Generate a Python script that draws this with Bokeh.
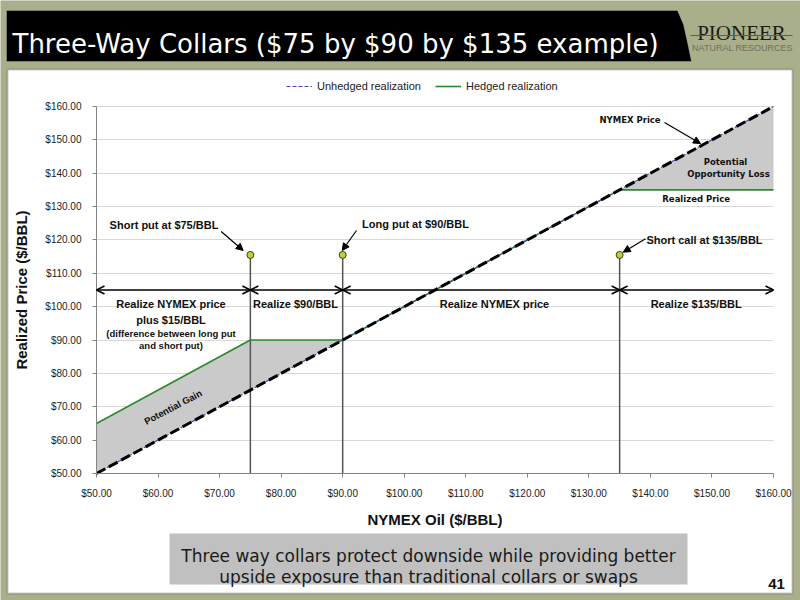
from bokeh.plotting import figure
from bokeh.models import (Label, BoxAnnotation, PolyAnnotation, Arrow, NormalHead, OpenHead,
                          Legend, LegendItem, FixedTicker, PrintfTickFormatter, Range1d)
from bokeh.embed import file_html
from bokeh.resources import INLINE

# ---------------- data ----------------
nymex = [50, 75, 90, 135, 160]          # NYMEX oil price ($/BBL)
unhedged = [50, 75, 90, 135, 160]       # unhedged realization
hedged = [65, 90, 90, 135, 135]         # hedged realization
gain_x = [50, 75, 90]
gain_low = [50, 75, 90]
gain_high = [65, 90, 90]
loss_x = [135, 160]
loss_low = [135, 135]
loss_high = [135, 160]
strikes = [75, 90, 135]
strike_names = ["Short put at $75/BBL", "Long put at $90/BBL", "Short call at $135/BBL"]
marker_level = 115.5
zone_edges = [50, 75, 90, 135, 160]
zone_level = 105
zone_names = ["Realize NYMEX price", "Realize $90/BBL", "Realize NYMEX price", "Realize $135/BBL"]
x_ticks = [50, 60, 70, 80, 90, 100, 110, 120, 130, 140, 150, 160]
y_ticks = [50, 60, 70, 80, 90, 100, 110, 120, 130, 140, 150, 160]
x_min, x_max = 50, 160
y_min, y_max = 50, 160

# ---------------- layout (reference pixel -> data) ----------------
W, H = 800, 600
FL, FR, FT, FB = 96, 773, 106, 473
KX = (x_max - x_min) / (FR - FL)
KY = (y_max - y_min) / (FB - FT)
def fx(px):
    return x_min + (px - FL) * KX
def fy(py):
    return y_max - (py - FT) * KY

SANS = "'Liberation Sans', Arial, sans-serif"
TAHOMA = "'DejaVu Sans', Verdana, sans-serif"

p = figure(width=W, height=H, output_backend="svg", toolbar_location=None,
           x_range=Range1d(fx(0), fx(W)), y_range=Range1d(fy(H), fy(0)),
           min_border_left=0, min_border_right=0, min_border_top=0, min_border_bottom=0,
           background_fill_color="#a9ae8b", border_fill_color="#a9ae8b",
           outline_line_color=None)

# slide decorations
panel = BoxAnnotation(left=fx(7), right=fx(792), top=fy(69), bottom=fy(593),
                      fill_color="white", fill_alpha=1, line_color="#4a4a4a", line_width=2,
                      level="image")
p.add_layout(panel)
title_bar = PolyAnnotation(xs=[fx(6), fx(677), fx(683), fx(687), fx(691), fx(6)],
                           ys=[fy(10), fy(10), fy(24), fy(42), fy(61), fy(61)],
                           fill_color="black", fill_alpha=1, line_color="#d5d6c8", line_width=1)
p.add_layout(title_bar)
p.add_layout(Label(x=fx(12), y=fy(43), text="Three-Way Collars ($75 by $90 by $135 example)",
                   text_color="white", text_font=TAHOMA, text_font_size="26px",
                   text_baseline="alphabetic"))
p.add_layout(Label(x=fx(741), y=fy(32), text="PIONEER", text_color="#1c1c14",
                   text_font="'Liberation Serif', serif", text_font_size="21px",
                   text_align="center", text_baseline="alphabetic"))
p.add_layout(Arrow(start=None, end=None, x_start=fx(690), x_end=fx(792), y_start=fy(35),
                   y_end=fy(35), line_color="#5e6048", line_width=1))
p.add_layout(Label(x=fx(742), y=fy(47), text="NATURAL RESOURCES", text_color="#6f705e",
                   text_font=SANS, text_font_size="9px", text_align="center",
                   text_baseline="alphabetic"))

footer = BoxAnnotation(left=fx(169), right=fx(687), top=fy(533), bottom=fy(584),
                       fill_color="#c0c0c0", fill_alpha=1, line_color=None)
p.add_layout(footer)
p.add_layout(Label(x=fx(428), y=fy(555), text="Three way collars protect downside while providing better",
                   text_color="#1a1a1a", text_font=TAHOMA, text_font_size="17px",
                   text_align="center", text_baseline="alphabetic"))
p.add_layout(Label(x=fx(428), y=fy(576), text="upside exposure than traditional collars or swaps",
                   text_color="#1a1a1a", text_font=TAHOMA, text_font_size="17px",
                   text_align="center", text_baseline="alphabetic"))
p.add_layout(Label(x=fx(776), y=fy(583), text="41", text_color="#111111", text_font=SANS,
                   text_font_style="bold", text_font_size="15px", text_align="center",
                   text_baseline="alphabetic"))

# axes, drawn at fixed locations inside the full-canvas frame
for ax, ticks, bnd in ((p.xaxis, x_ticks, (x_min, x_max)), (p.yaxis, y_ticks, (y_min, y_max))):
    ax.ticker = FixedTicker(ticks=ticks)
    ax.formatter = PrintfTickFormatter(format="$%.2f")
    ax.bounds = bnd
    ax.axis_line_color = "#858585"
    ax.major_tick_line_color = "#858585"
    ax.major_tick_out = 4
    ax.major_tick_in = 0
    ax.minor_tick_line_color = None
    ax.major_label_text_font = SANS
    ax.major_label_text_font_size = "10px"
    ax.major_label_text_color = "#222222"
    ax.axis_label_text_font = SANS
    ax.axis_label_text_font_style = "bold"
    ax.axis_label_text_font_size = "15px"
    ax.axis_label_text_color = "#111111"
p.xaxis.fixed_location = y_min
p.yaxis.fixed_location = x_min
p.xaxis.axis_label = "NYMEX Oil ($/BBL)"
p.yaxis.axis_label = "Realized Price ($/BBL)"
p.xaxis.major_label_standoff = 10
p.xaxis.axis_label_standoff = 9
p.yaxis.major_label_standoff = 11
p.yaxis.axis_label_standoff = 12
p.xgrid.grid_line_color = None
p.ygrid.ticker = FixedTicker(ticks=y_ticks)
p.ygrid.bounds = (y_min, y_max)
p.ygrid.cross_bounds = (x_min, x_max)
p.ygrid.grid_line_color = "#d9d9d9"

# shaded areas
p.varea(x=gain_x, y1=gain_low, y2=gain_high, fill_color="#cacaca")
p.varea(x=loss_x, y1=loss_low, y2=loss_high, fill_color="#cacaca")

# strike verticals and markers
p.segment(x0=strikes, y0=[y_min] * len(strikes), x1=strikes, y1=[marker_level] * len(strikes),
          line_color="#555555", line_width=1.5)

# series
r_h = p.line(nymex, hedged, line_color="#2a8a2a", line_width=1.6)
r_u = p.line(nymex, unhedged, line_color="#4b4ba8", line_width=1.2, line_dash="4 2")
p.line(nymex, unhedged, line_color="black", line_width=3, line_dash="10 4")

p.scatter(strikes, [marker_level] * len(strikes), size=7, fill_color="#c3d12e",
          line_color="#3a3a3a", line_width=1)

# zone arrows
for a, b in zip(zone_edges[:-1], zone_edges[1:]):
    p.add_layout(Arrow(start=OpenHead(size=8, line_width=1.5), end=OpenHead(size=8, line_width=1.5),
                       x_start=a, y_start=zone_level, x_end=b, y_end=zone_level,
                       line_color="black", line_width=1.5))

def lab(x, y, text, size="11px", font=SANS, style="bold", color="#111111", angle=0):
    p.add_layout(Label(x=x, y=y, text=text, text_font=font, text_font_size=size,
                       text_font_style=style, text_color=color, text_align="center",
                       text_baseline="middle", angle=angle))

# zone texts
lab(fx(170.5), fy(303), zone_names[0])
lab(fx(170.5), fy(319), "plus $15/BBL")
lab(fx(170.5), fy(333), "(difference between long put", size="9.5px")
lab(fx(170.5), fy(345), "and short put)", size="9.5px")
lab(fx(295), fy(303), zone_names[1])
lab(fx(494), fy(303), zone_names[2])
lab(fx(695.7), fy(303), zone_names[3])

# strike call-outs
lab(fx(163.5), fy(224), strike_names[0])
lab(fx(415), fy(223), strike_names[1])
lab(fx(704), fy(239), strike_names[2])
for (sx0, sy0, sx1, sy1) in ((220.7, 231, 242.7, 250), (356, 230, 341.7, 250),
                             (645, 238.3, 622.7, 251.7), (664, 122, 700, 143)):
    p.add_layout(Arrow(end=NormalHead(size=7, fill_color="black", line_color="black"),
                       x_start=fx(sx0), y_start=fy(sy0), x_end=fx(sx1), y_end=fy(sy1),
                       line_color="black", line_width=1.2))

lab(fx(629.5), fy(119), "NYMEX Price", size="8.5px", font=TAHOMA)
lab(fx(725), fy(161), "Potential", size="8.5px", font=TAHOMA)
lab(fx(728), fy(173), "Opportunity Loss", size="8.5px", font=TAHOMA)
lab(fx(695.7), fy(198), "Realized Price", size="8.5px", font=TAHOMA)
lab(fx(172.5), fy(406.5), "Potential Gain", size="9.5px", angle=0.485)

legend = Legend(items=[LegendItem(label="Unhedged realization", renderers=[r_u]),
                       LegendItem(label="Hedged realization", renderers=[r_h])],
                orientation="horizontal", location=(286, H - 96),
                border_line_color=None, background_fill_alpha=0,
                label_text_font=SANS, label_text_font_size="11px",
                label_text_color="#222222", glyph_width=26, spacing=14, padding=1, margin=0)
p.add_layout(legend)

open("out.html", "w").write(file_html(p, INLINE))
